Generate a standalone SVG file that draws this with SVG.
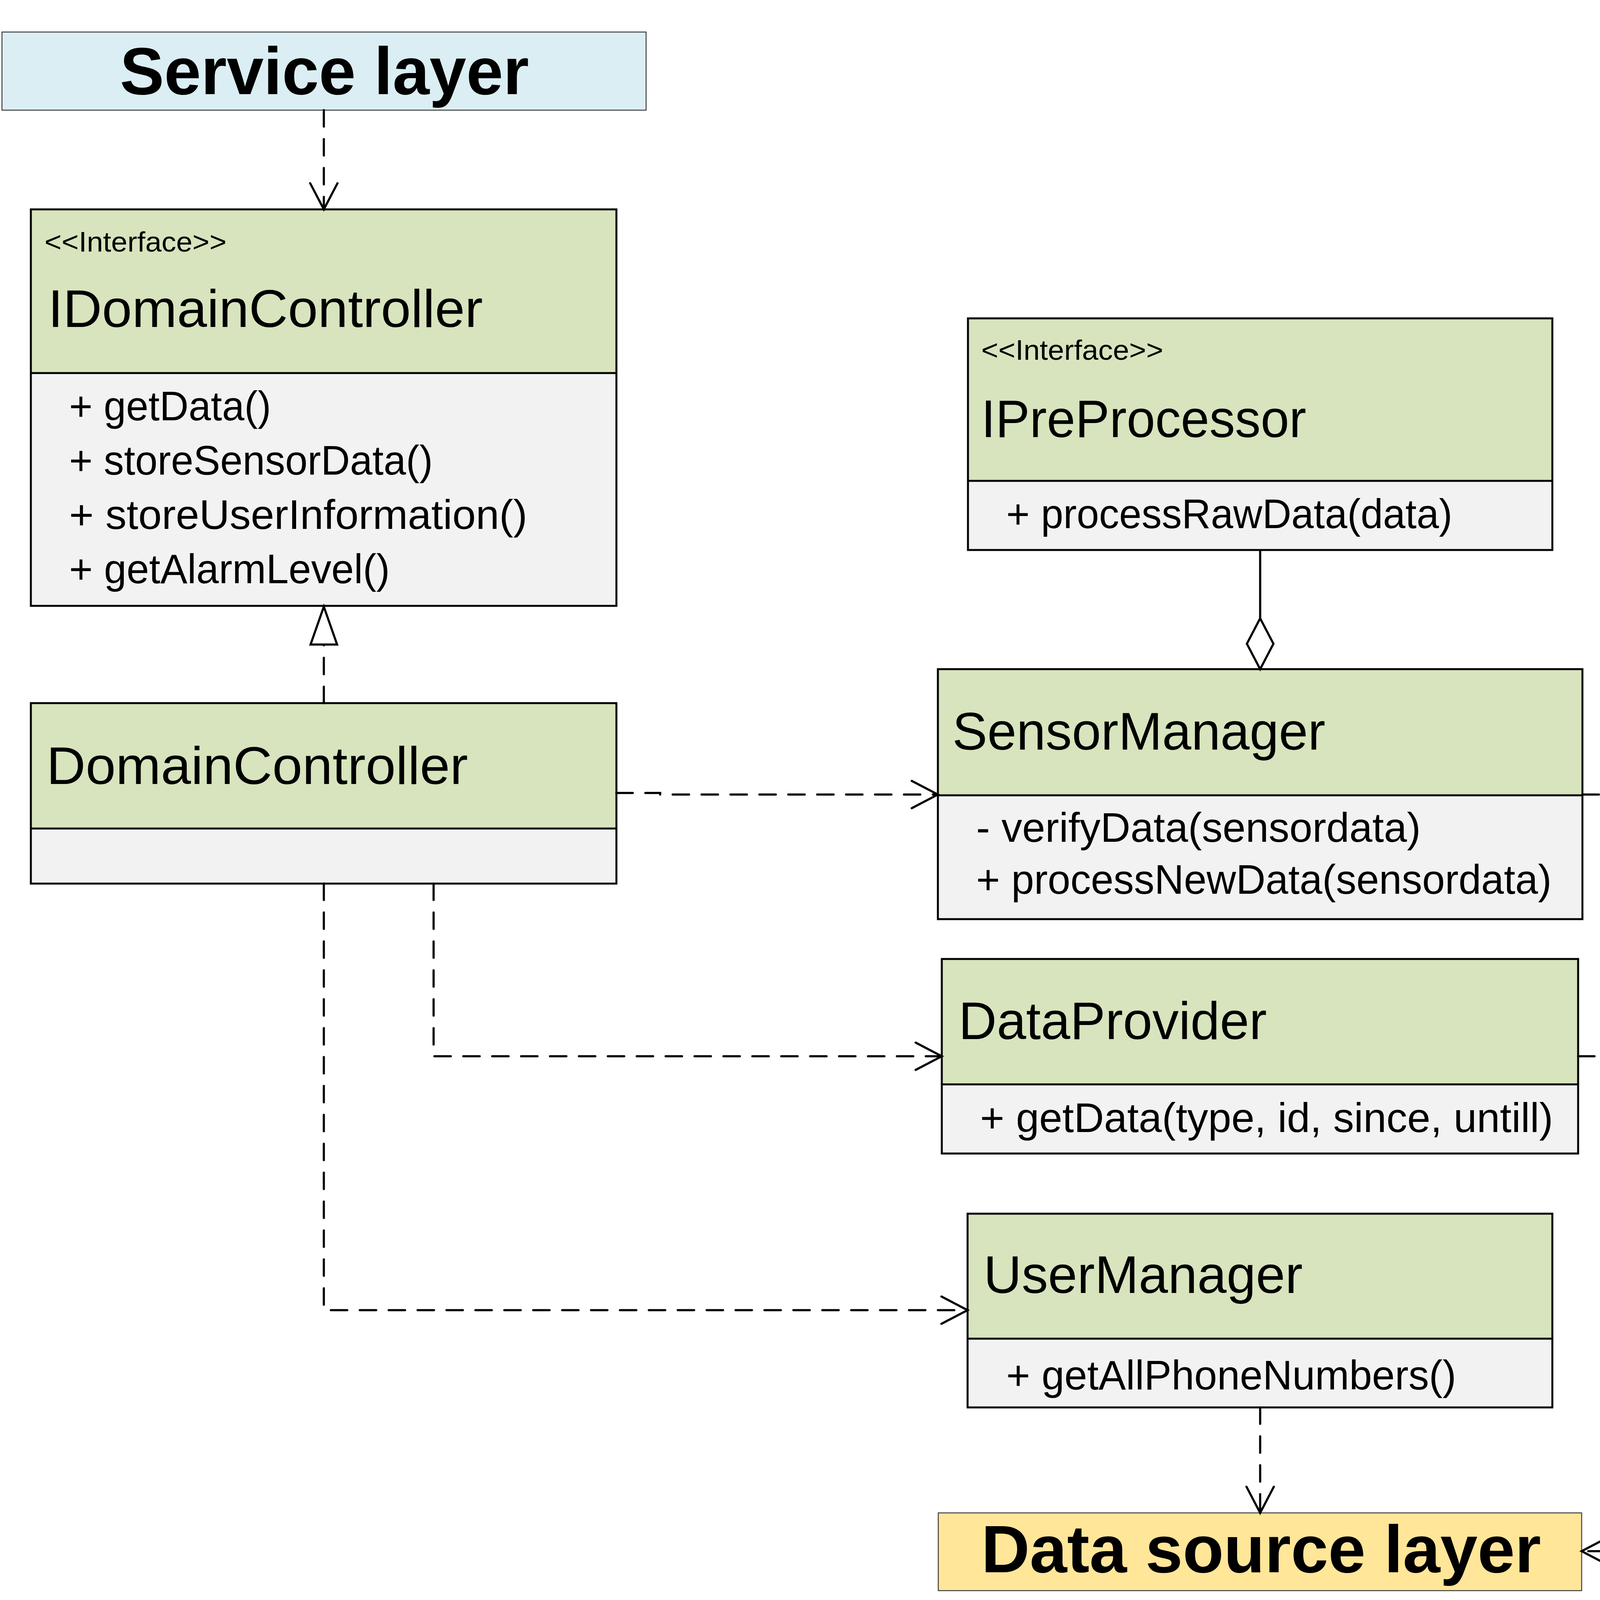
<svg xmlns="http://www.w3.org/2000/svg" width="4263" height="4188" viewBox="0 0 4263 4188">
<style>
.hdr{fill:#D7E4BD;stroke:none}
.bdy{fill:#F2F2F2;stroke:none}
.frame{fill:none;stroke:#000;stroke-width:5}
.div{stroke:#000;stroke-width:5}
.layer{stroke:#3F3F3F;stroke-width:2.5}
.t{font-family:"Liberation Sans",Arial,sans-serif;fill:#000}
.st{font-size:72px}
.nm{font-size:136px}
.me{font-size:106px}
.big{font-size:171px;font-weight:bold}
.dash{fill:none;stroke:#000;stroke-width:5.5;stroke-dasharray:42 32;stroke-linecap:round}
.solid{fill:none;stroke:#000;stroke-width:5.5}
.head{fill:#fff;stroke:#000;stroke-width:5.5;stroke-linejoin:miter}
</style>
<defs>
<marker id="open" markerUnits="userSpaceOnUse" viewBox="-80 -50 100 100" markerWidth="100" markerHeight="100" refX="0" refY="0" orient="auto" overflow="visible">
<path d="M-67,-35 L0,0 L-67,35" fill="none" stroke="#000" stroke-width="5.5" stroke-linecap="round"/>
</marker>
</defs>
<rect width="4263" height="4188" fill="#fff"/>

<g id="service-layer">
<rect x="5" y="82" width="1649" height="200" fill="#DAEEF3" class="layer"/>
<text class="t big" x="307" y="241" textLength="1047" lengthAdjust="spacingAndGlyphs">Service layer</text>
</g>

<g id="IDomainController">
<rect class="hdr" x="79" y="536" width="1499" height="419"/>
<rect class="bdy" x="79" y="955" width="1499" height="596"/>
<rect class="frame" x="79" y="536" width="1499" height="1015"/>
<line class="div" x1="79" y1="955" x2="1578" y2="955"/>
<text class="t st" x="114" y="644" textLength="466" lengthAdjust="spacingAndGlyphs">&lt;&lt;Interface&gt;&gt;</text>
<text class="t nm" x="123" y="837" textLength="1113" lengthAdjust="spacingAndGlyphs">IDomainController</text>
<text class="t me" x="177" y="1076" textLength="517" lengthAdjust="spacingAndGlyphs">+ getData()</text>
<text class="t me" x="177" y="1215" textLength="931" lengthAdjust="spacingAndGlyphs">+ storeSensorData()</text>
<text class="t me" x="177" y="1354" textLength="1173" lengthAdjust="spacingAndGlyphs">+ storeUserInformation()</text>
<text class="t me" x="177" y="1493" textLength="821" lengthAdjust="spacingAndGlyphs">+ getAlarmLevel()</text>
</g>

<g id="DomainController">
<rect class="hdr" x="79" y="1800" width="1499" height="321"/>
<rect class="bdy" x="79" y="2121" width="1499" height="141"/>
<rect class="frame" x="79" y="1800" width="1499" height="462"/>
<line class="div" x1="79" y1="2121" x2="1578" y2="2121"/>
<text class="t nm" x="119" y="2007" textLength="1079" lengthAdjust="spacingAndGlyphs">DomainController</text>
</g>

<g id="IPreProcessor">
<rect class="hdr" x="2478" y="815" width="1496" height="416"/>
<rect class="bdy" x="2478" y="1231" width="1496" height="177"/>
<rect class="frame" x="2478" y="815" width="1496" height="593"/>
<line class="div" x1="2478" y1="1231" x2="3974" y2="1231"/>
<text class="t st" x="2512" y="921" textLength="466" lengthAdjust="spacingAndGlyphs">&lt;&lt;Interface&gt;&gt;</text>
<text class="t nm" x="2512" y="1119" textLength="832" lengthAdjust="spacingAndGlyphs">IPreProcessor</text>
<text class="t me" x="2576" y="1352" textLength="1142" lengthAdjust="spacingAndGlyphs">+ processRawData(data)</text>
</g>

<g id="SensorManager">
<rect class="hdr" x="2401" y="1713" width="1650" height="323"/>
<rect class="bdy" x="2401" y="2036" width="1650" height="317"/>
<rect class="frame" x="2401" y="1713" width="1650" height="640"/>
<line class="div" x1="2401" y1="2036" x2="4051" y2="2036"/>
<text class="t nm" x="2438" y="1919" textLength="955" lengthAdjust="spacingAndGlyphs">SensorManager</text>
<text class="t me" x="2499" y="2155" textLength="1138" lengthAdjust="spacingAndGlyphs">- verifyData(sensordata)</text>
<text class="t me" x="2499" y="2288" textLength="1473" lengthAdjust="spacingAndGlyphs">+ processNewData(sensordata)</text>
</g>

<g id="DataProvider">
<rect class="hdr" x="2411" y="2455" width="1629" height="321"/>
<rect class="bdy" x="2411" y="2776" width="1629" height="177"/>
<rect class="frame" x="2411" y="2455" width="1629" height="498"/>
<line class="div" x1="2411" y1="2776" x2="4040" y2="2776"/>
<text class="t nm" x="2454" y="2660" textLength="789" lengthAdjust="spacingAndGlyphs">DataProvider</text>
<text class="t me" x="2509" y="2898" textLength="1467" lengthAdjust="spacingAndGlyphs">+ getData(type, id, since, untill)</text>
</g>

<g id="UserManager">
<rect class="hdr" x="2477" y="3107" width="1497" height="320"/>
<rect class="bdy" x="2477" y="3427" width="1497" height="176"/>
<rect class="frame" x="2477" y="3107" width="1497" height="496"/>
<line class="div" x1="2477" y1="3427" x2="3974" y2="3427"/>
<text class="t nm" x="2518" y="3310" textLength="817" lengthAdjust="spacingAndGlyphs">UserManager</text>
<text class="t me" x="2576" y="3557" textLength="1152" lengthAdjust="spacingAndGlyphs">+ getAllPhoneNumbers()</text>
</g>

<g id="data-source-layer">
<rect x="2402" y="3873" width="1647" height="199" fill="#FFE699" class="layer"/>
<text class="t big" x="2512" y="4025" textLength="1433" lengthAdjust="spacingAndGlyphs">Data source layer</text>
</g>

<g id="connectors">
<path class="dash" d="M829 282 V536" marker-end="url(#open)"/>
<path class="dash" d="M829 1800 V1650"/>
<polygon class="head" points="829,1553 795,1650 863,1650"/>
<path class="dash" d="M1578 2030 H1690 V2034 H2401" marker-end="url(#open)"/>
<path class="dash" d="M1110 2262 V2704 H2411" marker-end="url(#open)"/>
<path class="dash" d="M829 2262 V3354 H2477" marker-end="url(#open)"/>
<path class="solid" d="M3226 1408 V1583"/>
<polygon class="head" points="3226,1583 3260,1648 3226,1713 3192,1648"/>
<path class="dash" d="M4051 2034 H4258 V3971 H4049" marker-end="url(#open)"/>
<path class="dash" d="M4040 2704 H4258"/>
<path class="dash" d="M3226 3603 V3873" marker-end="url(#open)"/>
</g>
</svg>
